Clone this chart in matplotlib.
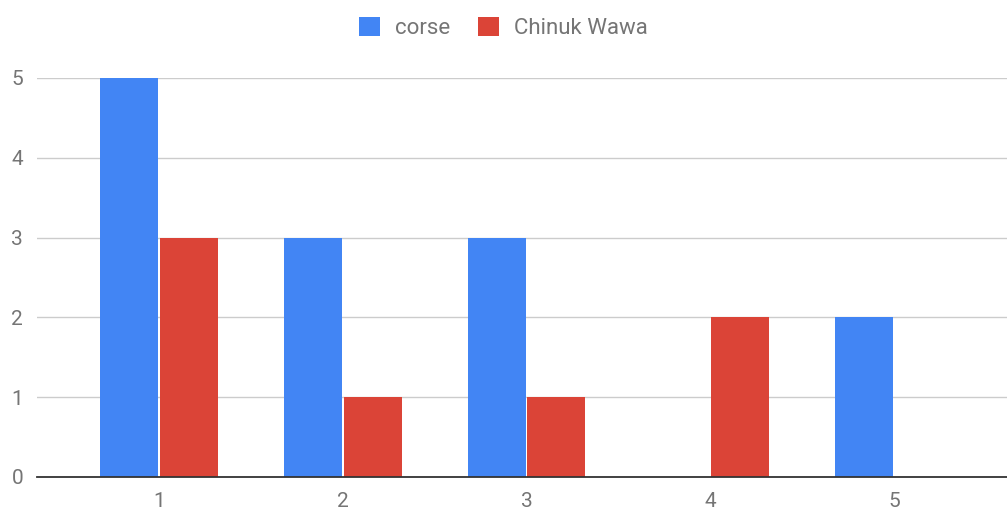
import matplotlib

matplotlib.use("Agg")

import matplotlib.pyplot as plt
import numpy as np

categories = ["1", "2", "3", "4", "5"]
corse = [5, 3, 3, 0, 2]
chinuk_wawa = [3, 1, 1, 2, 0]
series_names = ["corse", "Chinuk Wawa"]
y_ticks = [0, 1, 2, 3, 4, 5]

BLUE = "#4285F4"
RED = "#DB4437"
TEXT = "#757575"

plt.rcParams["font.family"] = ["Roboto", "DejaVu Sans"]

fig = plt.figure(figsize=(10.07, 5.08), dpi=100)
ax = fig.add_axes([37 / 1007, 31 / 508, 970 / 1007, 399 / 508])

x = np.arange(1, len(categories) + 1)
width = 0.316
off = 0.163
b1 = ax.bar(x - off, corse, width, color=BLUE, label=series_names[0], zorder=3)
b2 = ax.bar(x + off, chinuk_wawa, width, color=RED, label=series_names[1], zorder=3)

ax.set_xlim(0.336, 5.615)
ax.set_ylim(0, 5)
ax.set_yticks(y_ticks)
ax.set_xticks(x)
ax.set_xticklabels(categories)
ax.tick_params(axis="both", length=0, labelsize=15, labelcolor=TEXT)
ax.tick_params(axis="y", pad=10)
ax.tick_params(axis="x", pad=11)

ax.grid(axis="y", color="#cccccc", linewidth=1, zorder=0)
for s in ["top", "right", "left"]:
    ax.spines[s].set_visible(False)
ax.spines["bottom"].set_color("#333333")
ax.spines["bottom"].set_linewidth(1.3)
ax.spines["bottom"].set_zorder(4)

fig.legend(
    handles=[b1, b2],
    loc="center",
    bbox_to_anchor=(0.5, 1 - 28 / 508),
    ncol=2,
    frameon=False,
    fontsize=16,
    labelcolor=TEXT,
    handlelength=0.95,
    handleheight=0.95,
    handletextpad=0.68,
    columnspacing=1.26,
)

fig.savefig("out.png", dpi=100)
